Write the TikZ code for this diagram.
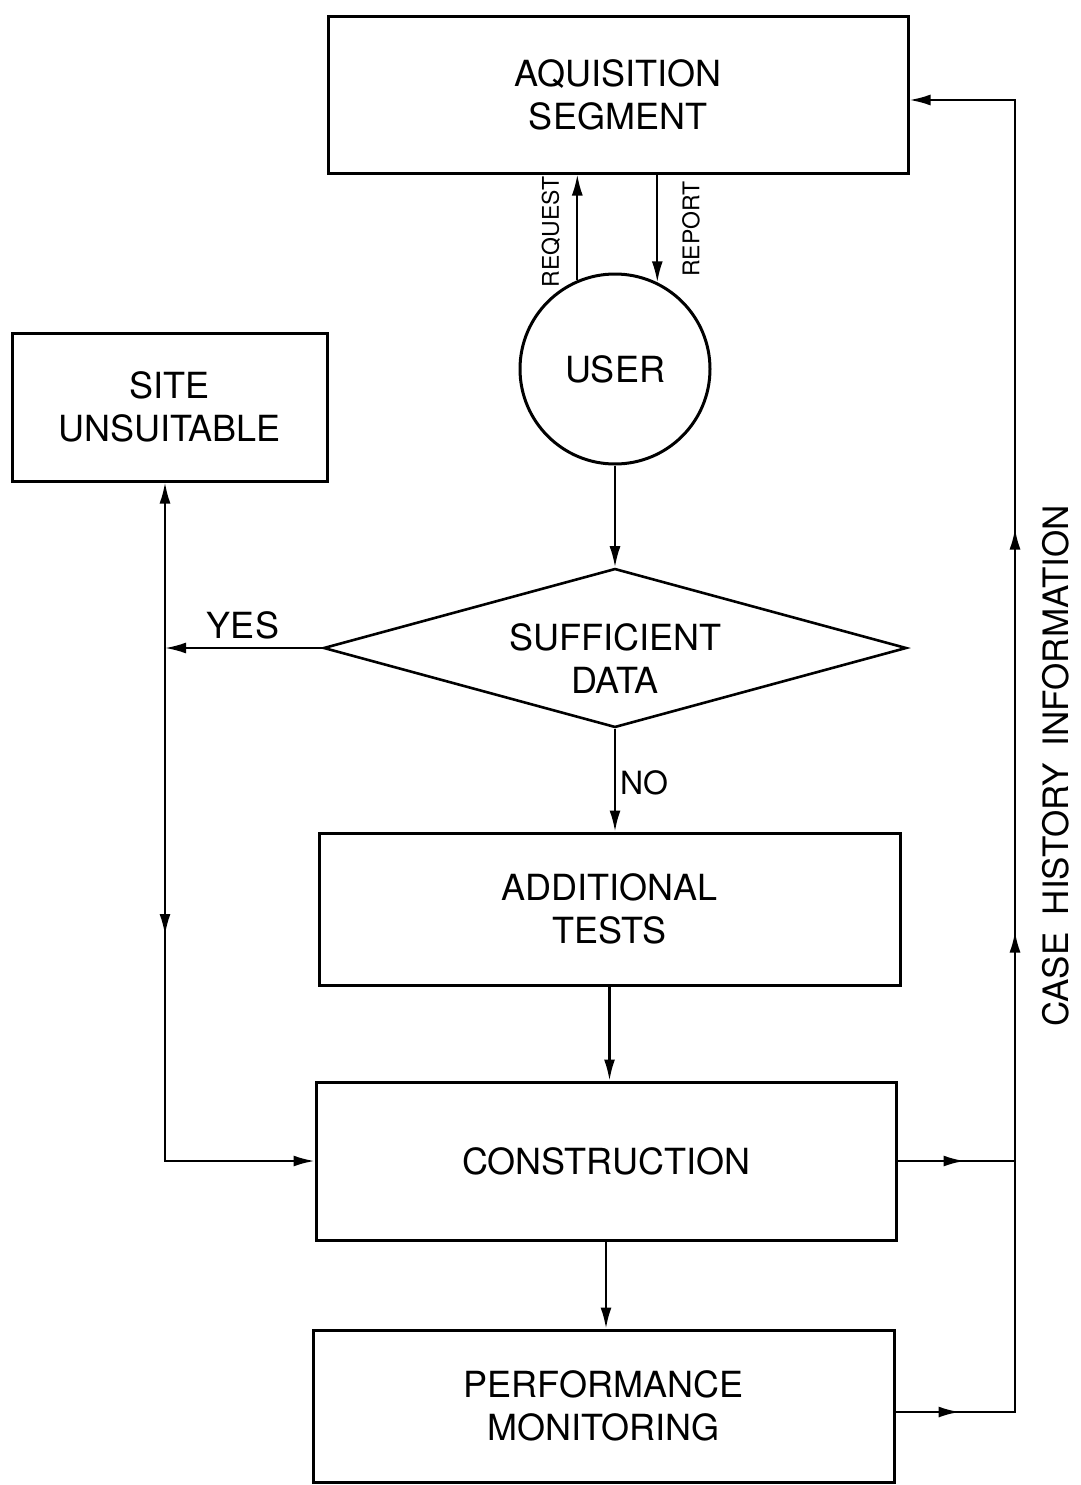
\documentclass[tikz,border=0pt]{standalone}
\usepackage{fontspec}
\setmainfont{TeX Gyre Heros}
\usetikzlibrary{arrows.meta,shapes.geometric,decorations.markings,calc}
\newcommand{\lblfont}{\fontsize{36}{43}\selectfont}
\newcommand{\smlfont}{\fontsize{23}{27}\selectfont}
\begin{document}
\begin{tikzpicture}[x=1pt,y=-1pt,
  box/.style={draw, line width=3pt, inner sep=0pt, align=center, font=\lblfont},
  conn/.style={line width=2.2pt, line join=miter},
  tip/.style={-{Latex[length=21pt,width=11pt]}},
  midarr/.style={postaction={decorate}, decoration={markings, mark=at position #1 with {\arrow{Latex[length=21pt,width=11pt]}}}},
  txt/.style={font=\lblfont, align=center, inner sep=0pt}]
\useasboundingbox (0,0) rectangle (1080,1485);
\fill[white] (0,0) rectangle (1080,1485);

% nodes
\node[box, minimum width=580pt, minimum height=156pt] (acq) at (618,95) {AQUISITION\\SEGMENT};
\node[box, circle, minimum size=190pt] (user) at (615,369) {USER};
\node[box, minimum width=315pt, minimum height=148pt] (site) at (169.5,407) {SITE\\UNSUITABLE};
\node[draw, diamond, line width=2.6pt, minimum width=583pt, minimum height=159pt, inner sep=0pt] (suf) at (615,648) {};
\node[txt] (suftxt) at (615,659) {SUFFICIENT\\DATA};
\node[box, minimum width=581pt, minimum height=152pt] (add) at (609.5,909) {ADDITIONAL\\TESTS};
\node[box, minimum width=580pt, minimum height=158pt] (con) at (606,1161) {CONSTRUCTION};
\node[box, minimum width=581pt, minimum height=152pt] (perf) at (603.5,1406) {PERFORMANCE\\MONITORING};

% junction coordinates
\coordinate (jY) at (165,648);
\coordinate (cL) at (165,1161);
\coordinate (rT) at (1015,100);
\coordinate (rC) at (1015,1161);
\coordinate (rP) at (1015,1412);

% connectors
\draw[conn,tip] (user.113.6) -- (user.113.6 |- acq.south);
\draw[conn,tip] (acq.south -| user.64.4) -- (user.64.4);
\draw[conn,tip] (user.south) -- (suf.north);
\draw[conn,tip] (suf.west) -- (jY);
\draw[conn,tip] (jY) -- (jY |- site.south);
\draw[conn,tip,midarr=287pt] (jY) -- (cL) -- (con.west);
\draw[conn,tip] (suf.south) -- (suf.south |- add.north);
\draw[conn,tip] (add.south) -- (add.south |- con.north);
\draw[conn,tip] (con.south) -- (con.south |- perf.north);
\draw[conn,midarr=67pt] (con.east) -- (rC);
\draw[conn,tip,postaction={decorate},
  decoration={markings,
    mark=at position 64pt with {\arrow{Latex[length=21pt,width=11pt]}},
    mark=at position 600pt with {\arrow{Latex[length=21pt,width=11pt]}},
    mark=at position 1003pt with {\arrow{Latex[length=21pt,width=11pt]}}}]
  (perf.east |- rP) -- (rP) -- (rT) -- (rT -| acq.east);

% labels
\node[font=\smlfont, rotate=90, inner sep=0pt] (reqtxt) at (551,232) {REQUEST};
\node[font=\smlfont, rotate=90, inner sep=0pt] (reptxt) at (691,229) {REPORT};
\node[txt] (yes) at (243,625) {YES};
\node[txt, font=\fontsize{32}{38}\selectfont] (no) at (644,783) {NO};
\node[txt, font=\fontsize{35}{40}\selectfont, rotate=90] (case) at (1056,766) {CASE\hspace{0.5em}HISTORY\hspace{0.5em}INFORMATION};
\end{tikzpicture}
\end{document}
